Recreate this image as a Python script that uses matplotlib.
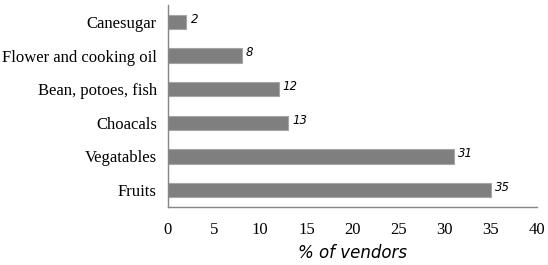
import matplotlib
matplotlib.use("Agg")
import matplotlib.pyplot as plt

categories = ["Canesugar", "Flower and cooking oil", "Bean, potoes, fish",
              "Choacals", "Vegatables", "Fruits"]
values = [2, 8, 12, 13, 31, 35]
xticks = [0, 5, 10, 15, 20, 25, 30, 35, 40]

fig = plt.figure(figsize=(5.48, 2.65), dpi=100)
ax = fig.add_axes([168/548, (265-207)/265, (537-168)/548, 202/265])

ypos = list(range(len(categories)))
ax.barh(ypos, values, height=0.42, color="#7f7f7f", edgecolor="#a6a6a6", linewidth=0.8)
ax.set_ylim(len(categories) - 0.5, -0.5)
ax.set_xlim(0, 40)
ax.set_yticks(ypos)
ax.set_yticklabels(categories, family="Liberation Serif", fontsize=12)
ax.set_xticks(xticks)
ax.set_xticklabels([str(t) for t in xticks], family="Liberation Serif", fontsize=12)
ax.tick_params(length=0)
ax.tick_params(axis="y", pad=8)
ax.tick_params(axis="x", pad=11)
for s in ["top", "right"]:
    ax.spines[s].set_visible(False)
for s in ["left", "bottom"]:
    ax.spines[s].set_color("#868686")
    ax.spines[s].set_linewidth(1.0)

for y, v in zip(ypos, values):
    ax.annotate(str(v), (v, y), xytext=(3, 2), textcoords="offset points",
                ha="left", va="center", fontsize=8.5, family="DejaVu Sans", style="italic")

ax.set_xlabel("% of vendors", family="DejaVu Sans", style="italic", fontsize=12, labelpad=4)

fig.savefig("out.png", dpi=100)
